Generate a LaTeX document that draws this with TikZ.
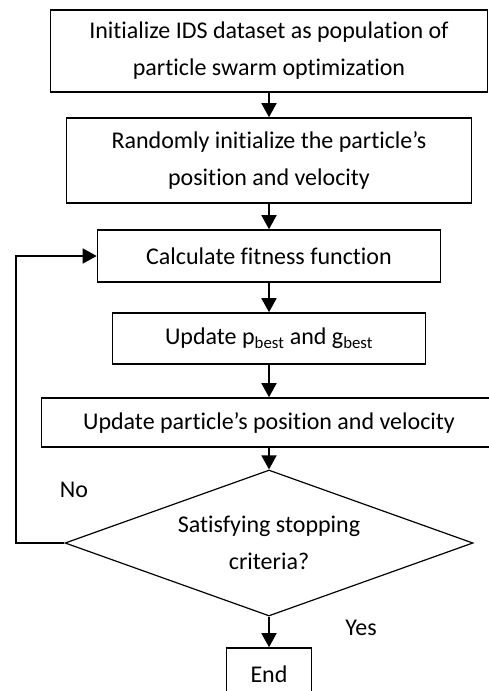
\documentclass[tikz,border=0pt]{standalone}
\usepackage{fontspec}
\setmainfont{Carlito}[Ligatures=NoCommon]
\usetikzlibrary{shapes.geometric,arrows.meta}
\begin{document}
\begin{tikzpicture}%
[x=1pt,y=-1pt,
every node/.style={rectangle,draw=black,line width=1.6pt,align=center,
inner sep=0pt,font=\fontsize{24}{37}\selectfont},
flow/.style={-{Triangle[length=14pt,width=15pt]},line width=1.8pt}]
\useasboundingbox (0,0) rectangle (488,691);
\node (init) at (269,51) [minimum width=437pt, minimum height=82pt]
{Initialize IDS dataset as population of\\particle swarm optimization};
\node (randinit) at (269,160.5) [minimum width=405pt, minimum height=85pt]
{Randomly initialize the particle’s\\position and velocity};
\node (fitness) at (269,256) [minimum width=343pt, minimum height=52pt]
{Calculate fitness function};
\node (best) at (269,338.5) [minimum width=313pt, minimum height=51pt]
{Update p\textsubscript{best} and g\textsubscript{best}};
\node (updpos) at (269,422.5) [minimum width=455pt, minimum height=49pt]
{Update particle’s position and velocity};
\node (stop) at (269,543) [diamond, aspect=2.8, minimum width=408pt,
minimum height=146pt, line width=1.2pt] {Satisfying stopping\\criteria?};
\node (end) at (269,674) [minimum width=85pt, minimum height=52pt] {End};
\node (no) at (74,490) [draw=none] {No};
\node (yes) at (361,628) [draw=none] {Yes};
\coordinate (corner) at (16,256);
\draw [flow] (init.south) -- (randinit.north);
\draw [flow] (randinit.south) -- (fitness.north);
\draw [flow] (fitness.south) -- (best.north);
\draw [flow] (best.south) -- (updpos.north);
\draw [flow] (updpos.south) -- (stop.north);
\draw [flow] (stop.south) -- (end.north);
\draw [flow] (stop.west) -| (corner) -- (fitness.west);
\end{tikzpicture}
\end{document}
